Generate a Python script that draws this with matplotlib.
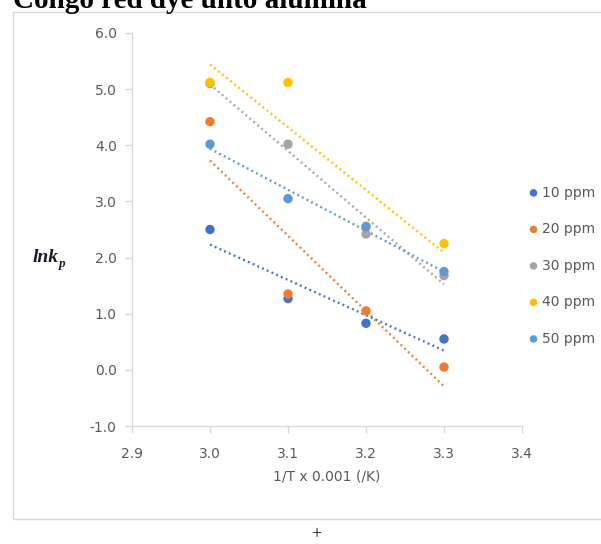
import numpy as np
import matplotlib.pyplot as plt
import matplotlib.patches as mpatches

# 1/T x 0.001 (/K) for the four temperatures
inv_T = [3.0, 3.1, 3.2, 3.3]

# ln kp for each initial dye concentration
lnkp_10 = [2.50, 1.27, 0.83, 0.55]
lnkp_20 = [4.42, 1.35, 1.05, 0.05]
lnkp_30 = [5.10, 4.02, 2.42, 1.68]
lnkp_40 = [5.12, 5.12, 2.56, 2.25]
lnkp_50 = [4.02, 3.05, 2.55, 1.75]

series_labels = ['10 ppm', '20 ppm', '30 ppm', '40 ppm', '50 ppm']
series_colors = ['#4472C4', '#ED7D31', '#A5A5A5', '#FFC000', '#5B9BD5']

W, H = 601, 544
fig = plt.figure(figsize=(W / 100, H / 100), dpi=100)

# outer chart frame
fig.patches.append(mpatches.Rectangle((13 / W, 1 - 519 / H), 700 / W, (519 - 12) / H,
                                      transform=fig.transFigure, fill=False,
                                      edgecolor='#d9d9d9', lw=1.0))

ax = fig.add_axes([132 / W, 1 - 426 / H, (522 - 132) / W, (426 - 33) / H])

all_series = [lnkp_10, lnkp_20, lnkp_30, lnkp_40, lnkp_50]
x = np.array(inv_T)
for vals, lab, col in zip(all_series, series_labels, series_colors):
    ax.scatter(x, vals, s=46, color=col, zorder=3, label=lab, edgecolors='none')
    # linear trendline
    b, a = np.polyfit(x, vals, 1)
    ax.plot(x[[0, -1]], a + b * x[[0, -1]], color=col, lw=1.7,
            linestyle=(0, (0.8, 1.4)), zorder=2)

ax.set_xlim(2.9, 3.4)
ax.set_ylim(-1.0, 6.0)
ax.set_xticks(np.arange(2.9, 3.41, 0.1))
ax.set_yticks(np.arange(-1.0, 6.01, 1.0))
ax.xaxis.set_major_formatter(plt.FormatStrFormatter('%.1f'))
ax.yaxis.set_major_formatter(plt.FormatStrFormatter('%.1f'))

for side in ['top', 'right']:
    ax.spines[side].set_visible(False)
for side in ['left', 'bottom']:
    ax.spines[side].set_color('#d9d9d9')
    ax.spines[side].set_linewidth(1.0)
ax.tick_params(axis='both', colors='#d9d9d9', labelcolor='#595959', labelsize=10,
               length=5, width=1.0, direction='out')
ax.tick_params(axis='x', pad=10)
ax.tick_params(axis='y', pad=6)

ax.set_xlabel('1/T x 0.001 (/K)', color='#595959', fontsize=10, labelpad=6)

# y label: lnk with subscript p, bold italic serif
fig.text(33 / W, 1 - 258 / H, 'lnk', family='Liberation Serif', fontsize=14,
         fontweight='bold', fontstyle='italic', color='#1a1a2e', va='center', ha='left')
fig.text(59 / W, 1 - 264 / H, 'p', family='Liberation Serif', fontsize=9.5,
         fontweight='bold', fontstyle='italic', color='#1a1a2e', va='center', ha='left')

leg = fig.legend(loc='upper left', bbox_to_anchor=(521 / W, 1 - 180 / H), frameon=False,
                 fontsize=10, markerscale=0.8, handletextpad=0.1, labelspacing=1.62,
                 handlelength=1.0, borderaxespad=0)
for t in leg.get_texts():
    t.set_color('#595959')

# heading above the chart, clipped by the top edge
fig.text(13 / W, 1 - 8 / H, 'Congo red dye unto alumina', family='Liberation Serif',
         fontsize=21, fontweight='bold', va='baseline', ha='left', color='black')

fig.text(316 / W, 1 - 535 / H, '+', family='Liberation Serif', fontsize=13,
         va='center', ha='center', color='black')

fig.savefig('out.png', dpi=100)
